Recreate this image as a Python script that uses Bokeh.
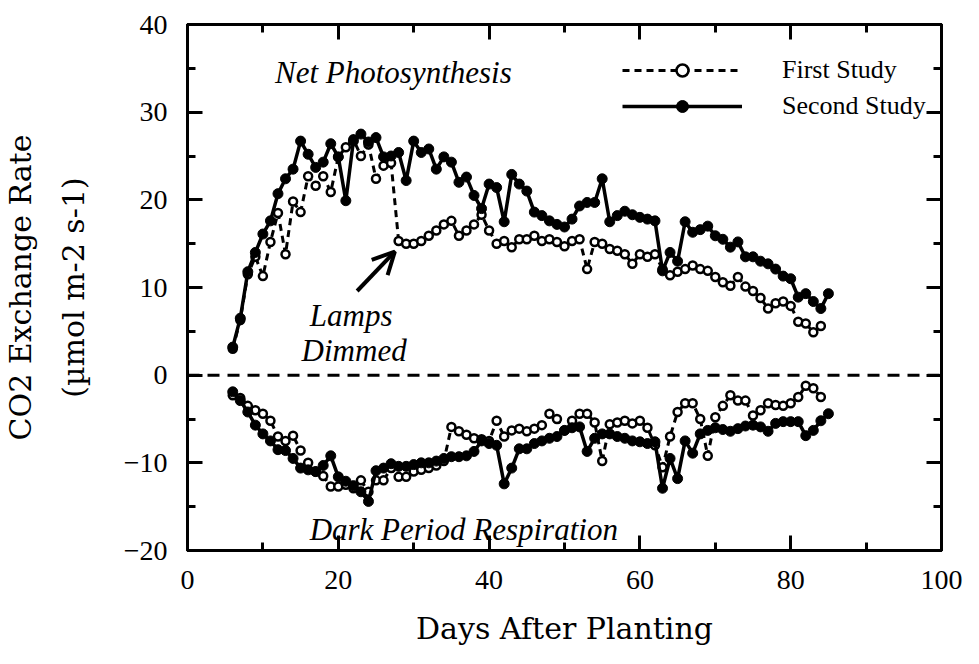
from bokeh.plotting import figure
from bokeh.models import (Span, Label, Arrow, OpenHead, LinearAxis, SingleIntervalTicker,
                          Legend, LegendItem, Range1d)
from bokeh.embed import file_html
from bokeh.resources import INLINE

# ---------------- data ----------------
days_s2_pos = list(range(6, 86))
net_s2 = [3.2, 6.5, 11.8, 14.0, 16.1, 17.6, 20.7, 22.4, 23.5, 26.7,
          25.2, 23.7, 24.3, 26.4, 24.9, 19.9, 26.7, 27.5, 26.6, 27.1,
          24.9, 25.0, 25.4, 22.2, 26.7, 25.4, 25.8, 23.5, 24.9, 24.3,
          22.0, 22.6, 20.5, 19.0, 21.8, 21.4, 17.5, 22.9, 21.8, 21.0,
          18.6, 18.2, 17.6, 17.2, 16.9, 17.8, 19.3, 19.7, 19.7, 22.4,
          17.5, 18.2, 18.7, 18.3, 18.0, 17.8, 17.6, 11.9, 14.0, 13.0,
          17.5, 16.3, 16.6, 17.0, 15.9, 15.5, 14.6, 15.2, 13.5, 13.5,
          13.0, 12.7, 12.1, 11.3, 11.0, 8.9, 9.3, 8.4, 7.6, 9.3]

days_s1_pos = list(range(6, 85))
net_s1 = [3.0, 6.3, 11.5, 13.5, 11.3, 15.2, 18.5, 13.8, 19.8, 18.6,
          22.7, 21.6, 22.7, 20.9, 24.9, 26.0, 26.9, 25.0, 26.3, 22.4,
          23.9, 24.2, 15.3, 15.0, 15.0, 15.3, 15.9, 16.5, 17.2, 17.6,
          15.9, 16.5, 17.2, 18.3, 16.5, 15.0, 15.3, 14.6, 15.5, 15.5,
          15.9, 15.3, 15.5, 15.2, 14.7, 15.3, 15.5, 12.1, 15.2, 15.0,
          14.4, 14.2, 13.8, 12.7, 13.8, 13.5, 13.8, 12.1, 11.4, 11.8,
          12.1, 12.5, 12.1, 11.9, 11.2, 10.6, 10.2, 11.2, 10.1, 9.6,
          8.8, 7.6, 8.2, 8.4, 7.9, 6.1, 5.9, 4.9, 5.6]

days_s2_neg = list(range(6, 86))
resp_s2 = [-1.9, -2.9, -4.2, -5.7, -6.7, -7.5, -8.5, -8.6, -9.5, -10.6,
           -10.8, -11.0, -10.3, -9.2, -11.6, -12.1, -12.6, -13.3, -14.4, -10.9,
           -10.6, -10.1, -10.4, -10.4, -10.2, -10.0, -10.0, -9.8, -9.5, -9.3,
           -9.3, -9.2, -8.7, -7.5, -7.8, -8.0, -12.4, -10.6, -8.4, -8.4,
           -7.8, -7.5, -7.2, -7.0, -6.3, -6.0, -5.9, -8.7, -7.2, -6.7,
           -6.7, -7.0, -7.2, -7.5, -7.6, -7.8, -7.6, -12.9, -9.5, -11.8,
           -7.5, -8.9, -6.7, -6.3, -6.0, -6.2, -6.4, -6.1, -5.8, -5.7,
           -5.9, -6.4, -5.5, -5.3, -5.3, -5.3, -6.9, -6.3, -5.2, -4.4]

days_s1_neg = list(range(6, 85))
resp_s1 = [-2.3, -2.6, -3.5, -4.0, -4.4, -5.2, -7.0, -7.5, -6.9, -8.6,
           -10.0, -11.0, -11.5, -12.7, -12.7, -12.5, -12.9, -12.0, -13.3, -12.0,
           -12.0, -10.6, -11.6, -11.6, -11.0, -10.8, -10.6, -10.3, -9.8, -5.9,
           -6.4, -6.8, -7.2, -7.3, -7.5, -5.2, -7.0, -6.3, -6.1, -6.4,
           -6.1, -5.7, -4.4, -5.0, -6.3, -5.2, -4.4, -4.4, -5.4, -9.8,
           -5.6, -5.4, -5.2, -5.5, -5.2, -6.0, -8.0, -10.5, -7.0, -4.2,
           -3.2, -3.2, -5.0, -9.2, -4.8, -3.5, -2.3, -2.9, -2.9, -4.6,
           -4.0, -3.2, -3.4, -3.5, -3.2, -2.5, -1.2, -1.5, -2.5]

series_labels = ["First Study", "Second Study"]
x_label = "Days After Planting"
y_label = "CO2 Exchange Rate\n(\u00b5mol m-2 s-1)"

SERIF = "Liberation Serif"

# ---------------- figure ----------------
p = figure(width=963, height=648, output_backend="svg", toolbar_location=None,
           x_range=Range1d(0, 100), y_range=Range1d(-20, 40),
           min_border_left=177, min_border_right=22, min_border_top=24, min_border_bottom=97)
p.grid.visible = False
p.background_fill_color = "white"
p.border_fill_color = "white"
p.outline_line_color = "black"
p.outline_line_width = 3

# axes
for ax in (p.xaxis[0], p.yaxis[0]):
    ax.axis_line_width = 3
    ax.major_tick_in = 15
    ax.major_tick_out = 0
    ax.minor_tick_in = 8
    ax.minor_tick_out = 0
    ax.major_tick_line_width = 3
    ax.minor_tick_line_width = 3
    ax.major_label_text_font = SERIF
    ax.major_label_text_font_size = "28px"
    ax.major_label_text_color = "black"
    ax.major_label_standoff = 20
    ax.axis_label_text_font = "DejaVu Serif"
    ax.axis_label_text_font_size = "30px"
    ax.axis_label_text_font_style = "normal"
    ax.axis_label_text_color = "black"

p.xaxis[0].ticker = SingleIntervalTicker(interval=20, num_minor_ticks=2)
p.yaxis[0].ticker = SingleIntervalTicker(interval=10, num_minor_ticks=2)
p.xaxis[0].axis_label = x_label
p.xaxis[0].axis_label_standoff = 19
p.yaxis[0].axis_label = y_label
p.yaxis[0].axis_label_standoff = 30
p.yaxis[0].axis_label_text_line_height = 1.5

top_ax = LinearAxis(ticker=SingleIntervalTicker(interval=20, num_minor_ticks=2))
right_ax = LinearAxis(ticker=SingleIntervalTicker(interval=10, num_minor_ticks=2))
for ax in (top_ax, right_ax):
    ax.axis_line_width = 3
    ax.major_tick_in = 15
    ax.major_tick_out = 0
    ax.minor_tick_in = 8
    ax.minor_tick_out = 0
    ax.major_tick_line_width = 3
    ax.minor_tick_line_width = 3
    ax.major_label_text_font_size = "0px"
    ax.major_label_standoff = 0
p.add_layout(top_ax, "above")
p.add_layout(right_ax, "right")

# zero line
p.add_layout(Span(location=0, dimension="width", line_color="black",
                  line_width=3, line_dash="12 8"))

# series
l1a = p.line(days_s1_pos, net_s1, line_color="black", line_width=3, line_dash="7 5")
c1a = p.scatter(days_s1_pos, net_s1, size=8, marker="circle", line_color="black",
                line_width=2.5, fill_color="white")
l1b = p.line(days_s1_neg, resp_s1, line_color="black", line_width=3, line_dash="7 5")
c1b = p.scatter(days_s1_neg, resp_s1, size=8, marker="circle", line_color="black",
                line_width=2.5, fill_color="white")

l2a = p.line(days_s2_pos, net_s2, line_color="black", line_width=3.5)
c2a = p.scatter(days_s2_pos, net_s2, size=10, marker="circle", line_color="black",
                fill_color="black")
l2b = p.line(days_s2_neg, resp_s2, line_color="black", line_width=3.5)
c2b = p.scatter(days_s2_neg, resp_s2, size=10, marker="circle", line_color="black",
                fill_color="black")

legend = Legend(items=[LegendItem(label=series_labels[0], renderers=[l1a, c1a]),
                       LegendItem(label=series_labels[1], renderers=[l2a, c2a])],
                location=(435, 429), orientation="vertical",
                glyph_width=120, glyph_height=30, label_height=30, spacing=6,
                label_standoff=40, padding=0, margin=0,
                border_line_color=None, background_fill_alpha=0,
                label_text_font=SERIF, label_text_font_size="26px",
                label_text_color="black")
p.add_layout(legend, "center")

# annotations
ital = dict(text_font=SERIF, text_font_style="italic", text_font_size="31px",
            text_color="black", text_baseline="alphabetic")
p.add_layout(Label(x=11.6, y=34.5, text="Net Photosynthesis", text_align="left", **ital))
p.add_layout(Label(x=16.2, y=-17.6, text="Dark Period Respiration", text_align="left", **ital))
p.add_layout(Label(x=21.7, y=6.8, text="Lamps", text_align="center", **ital))
p.add_layout(Label(x=22.1, y=2.8, text="Dimmed", text_align="center", **ital))
p.add_layout(Arrow(x_start=22.5, y_start=9.6, x_end=27.5, y_end=14.1,
                   line_width=4, line_color="black",
                   end=OpenHead(size=22, line_width=4, line_color="black")))

open("out.html", "w").write(file_html(p, INLINE))
